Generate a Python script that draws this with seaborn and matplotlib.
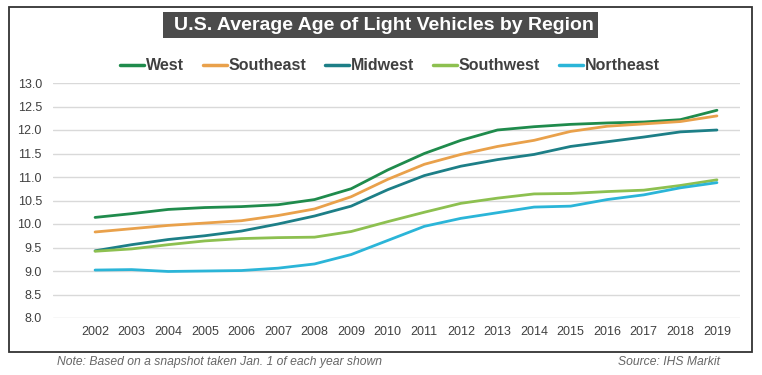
import numpy as np
import pandas as pd
import matplotlib
matplotlib.use("Agg")
import matplotlib.pyplot as plt
import seaborn as sns
from matplotlib.patches import Rectangle

years = list(range(2002, 2020))
west = [10.14, 10.22, 10.31, 10.35, 10.37, 10.41, 10.52, 10.75, 11.15, 11.50, 11.78, 12.00, 12.07, 12.12, 12.15, 12.17, 12.22, 12.42]
southeast = [9.83, 9.90, 9.97, 10.02, 10.07, 10.18, 10.32, 10.58, 10.95, 11.27, 11.48, 11.65, 11.78, 11.97, 12.08, 12.13, 12.18, 12.30]
midwest = [9.43, 9.56, 9.67, 9.75, 9.85, 10.00, 10.17, 10.38, 10.73, 11.03, 11.23, 11.37, 11.48, 11.65, 11.75, 11.85, 11.96, 12.00]
southwest = [9.42, 9.47, 9.56, 9.64, 9.69, 9.71, 9.72, 9.84, 10.05, 10.25, 10.44, 10.55, 10.64, 10.65, 10.69, 10.72, 10.82, 10.94]
northeast = [9.02, 9.03, 8.99, 9.00, 9.01, 9.06, 9.15, 9.35, 9.65, 9.95, 10.12, 10.24, 10.36, 10.38, 10.52, 10.62, 10.77, 10.88]
regions = ["West", "Southeast", "Midwest", "Southwest", "Northeast"]
colors = ["#1f8b4c", "#e9a14b", "#1d7f87", "#8dc050", "#2bb5d8"]
title = "U.S. Average Age of Light Vehicles by Region"
note = "Note: Based on a snapshot taken Jan. 1 of each year shown"
source = "Source: IHS Markit"

df = pd.DataFrame({
    "Year": years * 5,
    "Age": west + southeast + midwest + southwest + northeast,
    "Region": sum([[r] * len(years) for r in regions], []),
})

sns.set_theme(style="white")
plt.rcParams["font.family"] = ["Liberation Sans", "DejaVu Sans"]

W, H = 762, 375
fig = plt.figure(figsize=(W / 100, H / 100), dpi=100)
fig.patch.set_facecolor("white")

# outer frame
fig.patches.append(Rectangle((9 / W, 1 - 352 / H), (752 - 9) / W, (352 - 7) / H,
                             transform=fig.transFigure, fill=False,
                             edgecolor="#333333", linewidth=1.3))
# title box
fig.patches.append(Rectangle((163 / W, 1 - 38 / H), (598 - 163) / W, (38 - 12) / H,
                             transform=fig.transFigure, facecolor="#4b4b4b",
                             edgecolor="none"))

ax = fig.add_axes([53 / W, 1 - 318 / H, (740 - 53) / W, (318 - 83) / H])
sns.lineplot(data=df, x="Year", y="Age", hue="Region", hue_order=regions,
             palette=colors, linewidth=2.0, ax=ax, legend=False)

ax.set_ylim(8, 13)
ax.set_xlim(2002 - 1.15, 2019 + 0.63)
ax.set_yticks(np.arange(8, 13.01, 0.5))
ax.set_yticklabels([f"{v:.1f}" for v in np.arange(8, 13.01, 0.5)])
ax.set_xticks(years)
ax.set_xticklabels([str(y) for y in years])
ax.grid(axis="y", color="#d9d9d9", linewidth=1.0)
ax.set_axisbelow(True)
for s in ax.spines.values():
    s.set_visible(False)
ax.tick_params(axis="both", length=0, labelsize=9, colors="#404040")
ax.tick_params(axis="y", pad=8)
ax.tick_params(axis="x", pad=6)
ax.set_xlabel("")
ax.set_ylabel("")

fig.text(384 / W, 1 - 25.5 / H, title, ha="center", va="center", color="white",
         fontsize=14, fontweight="bold")

# legend
handles = [plt.Line2D([0], [0], color=c, linewidth=2.5) for c in colors]
fig.legend(handles, regions, loc="center", bbox_to_anchor=(390 / W, 1 - 66 / H),
           ncol=5, frameon=False, handlelength=1.5,
           handletextpad=0.1, columnspacing=1.2,
           prop={"weight": "bold", "size": 11.5})
for t in fig.legends[0].get_texts():
    t.set_color("#404040")

fig.text(57 / W, 1 - 362 / H, note, ha="left", va="center", fontsize=8.7,
         style="italic", color="#666666")
fig.text(720 / W, 1 - 362 / H, source, ha="right", va="center", fontsize=8.7,
         style="italic", color="#666666")

fig.savefig("out.png", dpi=100, facecolor="white")
